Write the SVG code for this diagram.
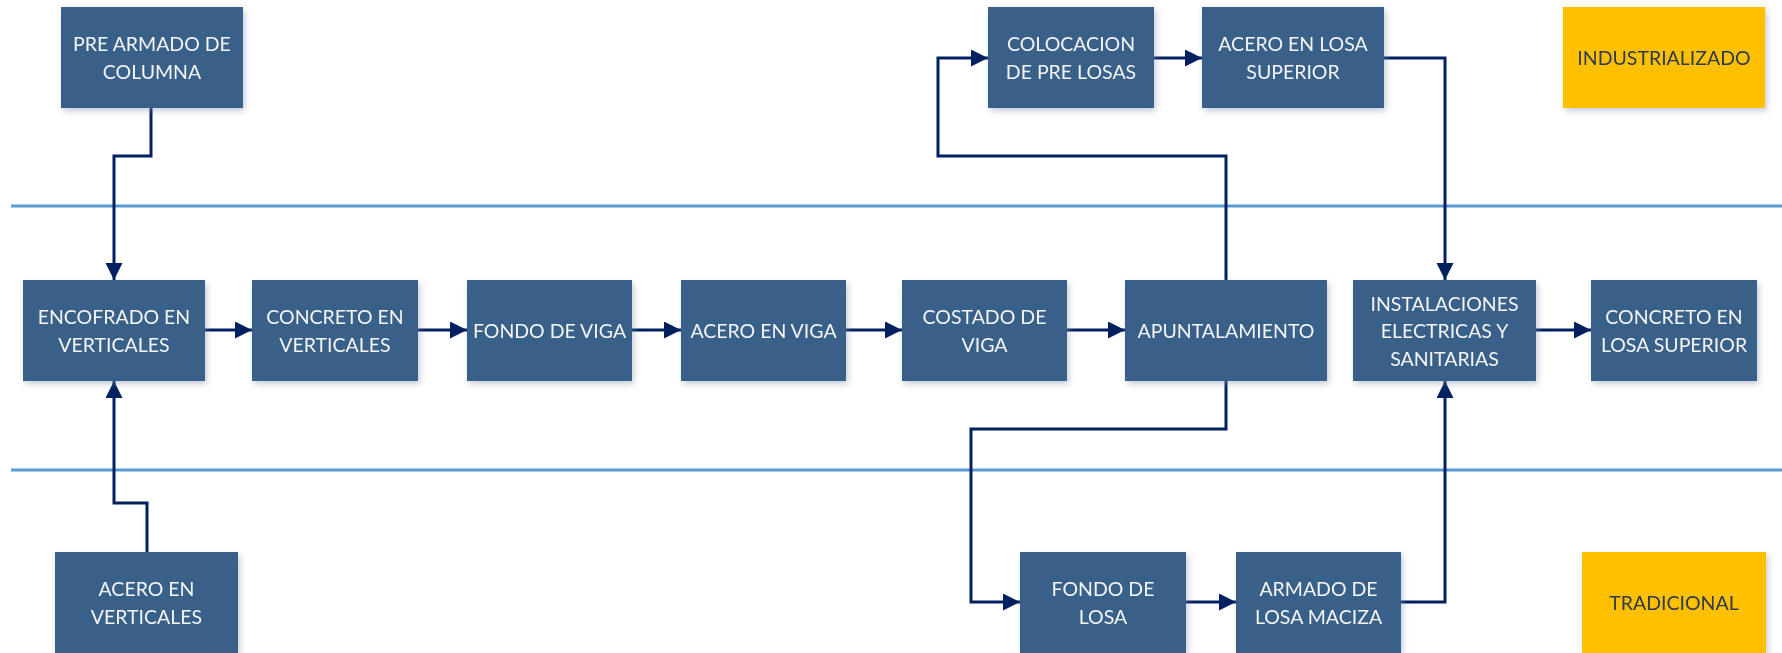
<svg xmlns="http://www.w3.org/2000/svg" width="1782" height="653" viewBox="0 0 1782 653">
<defs>
<style>
.box{fill:#376088;}
.tag{fill:#FFC000;}
.t{font-family:Lato,"Open Sans","Liberation Sans",sans-serif;font-size:19.5px;fill:#F4F4F4;text-anchor:middle;}
.tt{font-family:Lato,"Open Sans","Liberation Sans",sans-serif;font-size:19.5px;fill:#2F3A55;text-anchor:middle;}
.lane{stroke:#5B9BD5;stroke-width:3;fill:none;}
.c{stroke:#002060;stroke-width:3;fill:none;marker-end:url(#ah);}
</style>
<marker id="ah" markerUnits="userSpaceOnUse" markerWidth="18" markerHeight="18" refX="17" refY="8.5" orient="auto">
<path d="M0,0 L17,8.5 L0,17 z" fill="#002060"/>
</marker>
<filter id="sh" x="-10%" y="-10%" width="130%" height="130%">
<feDropShadow dx="2" dy="3" stdDeviation="3" flood-color="#7F8FA6" flood-opacity="0.45"/>
</filter>
</defs>
<rect width="1782" height="653" fill="#FFFFFF"/>
<g id="lanes">
<line class="lane" x1="11" y1="206" x2="1782" y2="206"/>
<line class="lane" x1="11" y1="470" x2="1782" y2="470"/>
</g>
<g id="connectors">
<path class="c" d="M151,108 V156 H114 V280"/>
<path class="c" d="M147,552 V503 H114 V381"/>
<path class="c" d="M205,330 H252"/>
<path class="c" d="M418,330 H467"/>
<path class="c" d="M632,330 H681"/>
<path class="c" d="M846,330 H902"/>
<path class="c" d="M1067,330 H1125"/>
<path class="c" d="M1226,280 V156 H938 V58 H988"/>
<path class="c" d="M1154,58 H1202"/>
<path class="c" d="M1384,58 H1445 V280"/>
<path class="c" d="M1226,381 V429 H971 V602 H1020"/>
<path class="c" d="M1186,602 H1236"/>
<path class="c" d="M1401,602 H1445 V381"/>
<path class="c" d="M1536,330 H1591"/>
</g>
<g id="pre-armado" filter="url(#sh)">
<rect class="box" x="61" y="7" width="182" height="101"/>
<text class="t" x="152" y="51">PRE ARMADO DE</text>
<text class="t" x="152" y="79">COLUMNA</text>
</g>
<g id="colocacion" filter="url(#sh)">
<rect class="box" x="988" y="7" width="166" height="101"/>
<text class="t" x="1071" y="51">COLOCACION</text>
<text class="t" x="1071" y="79">DE PRE LOSAS</text>
</g>
<g id="acero-losa-sup" filter="url(#sh)">
<rect class="box" x="1202" y="7" width="182" height="101"/>
<text class="t" x="1293" y="51">ACERO EN LOSA</text>
<text class="t" x="1293" y="79">SUPERIOR</text>
</g>
<g id="industrializado" filter="url(#sh)">
<rect class="tag" x="1563" y="7" width="202" height="101"/>
<text class="tt" x="1664" y="65">INDUSTRIALIZADO</text>
</g>
<g id="encofrado" filter="url(#sh)">
<rect class="box" x="23" y="280" width="182" height="101"/>
<text class="t" x="114" y="324">ENCOFRADO EN</text>
<text class="t" x="114" y="352">VERTICALES</text>
</g>
<g id="concreto-vert" filter="url(#sh)">
<rect class="box" x="252" y="280" width="166" height="101"/>
<text class="t" x="335" y="324">CONCRETO EN</text>
<text class="t" x="335" y="352">VERTICALES</text>
</g>
<g id="fondo-viga" filter="url(#sh)">
<rect class="box" x="467" y="280" width="165" height="101"/>
<text class="t" x="549.5" y="338">FONDO DE VIGA</text>
</g>
<g id="acero-viga" filter="url(#sh)">
<rect class="box" x="681" y="280" width="165" height="101"/>
<text class="t" x="763.5" y="338">ACERO EN VIGA</text>
</g>
<g id="costado" filter="url(#sh)">
<rect class="box" x="902" y="280" width="165" height="101"/>
<text class="t" x="984.5" y="324">COSTADO DE</text>
<text class="t" x="984.5" y="352">VIGA</text>
</g>
<g id="apuntalamiento" filter="url(#sh)">
<rect class="box" x="1125" y="280" width="202" height="101"/>
<text class="t" x="1226" y="338">APUNTALAMIENTO</text>
</g>
<g id="instalaciones" filter="url(#sh)">
<rect class="box" x="1353" y="280" width="183" height="101"/>
<text class="t" x="1444.5" y="311">INSTALACIONES</text>
<text class="t" x="1444.5" y="338">ELECTRICAS Y</text>
<text class="t" x="1444.5" y="366">SANITARIAS</text>
</g>
<g id="concreto-losa" filter="url(#sh)">
<rect class="box" x="1591" y="280" width="166" height="101"/>
<text class="t" x="1674" y="324">CONCRETO EN</text>
<text class="t" x="1674" y="352">LOSA SUPERIOR</text>
</g>
<g id="acero-vert" filter="url(#sh)">
<rect class="box" x="55" y="552" width="183" height="101"/>
<text class="t" x="146.5" y="596">ACERO EN</text>
<text class="t" x="146.5" y="624">VERTICALES</text>
</g>
<g id="fondo-losa" filter="url(#sh)">
<rect class="box" x="1020" y="552" width="166" height="101"/>
<text class="t" x="1103" y="596">FONDO DE</text>
<text class="t" x="1103" y="624">LOSA</text>
</g>
<g id="armado-losa" filter="url(#sh)">
<rect class="box" x="1236" y="552" width="165" height="101"/>
<text class="t" x="1318.5" y="596">ARMADO DE</text>
<text class="t" x="1318.5" y="624">LOSA MACIZA</text>
</g>
<g id="tradicional" filter="url(#sh)">
<rect class="tag" x="1582" y="552" width="184" height="101"/>
<text class="tt" x="1674" y="610">TRADICIONAL</text>
</g>
</svg>
